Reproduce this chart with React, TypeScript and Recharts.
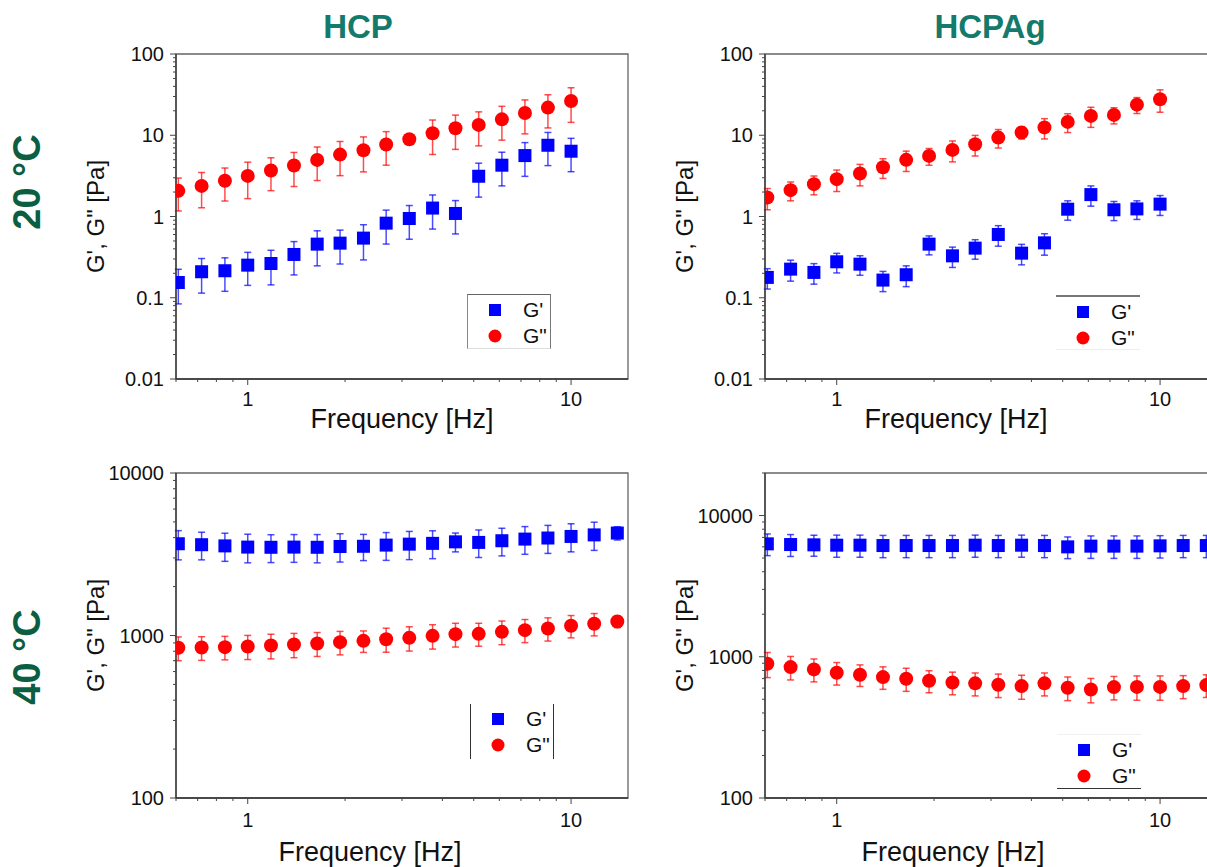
import React from "react";
import {
  ScatterChart,
  Scatter,
  XAxis,
  YAxis,
  ErrorBar,
  Legend,
  ReferenceArea,
} from "recharts";

// frequency sweep [Hz]
const FREQ = [
  0.61, 0.72, 0.85, 1, 1.18, 1.39, 1.64, 1.93, 2.28, 2.68, 3.16, 3.73, 4.39,
  5.18, 6.11, 7.2, 8.48, 10, 11.79, 13.9,
];

// HCP, 20 °C
const HCP20_G1 = [0.154, 0.209, 0.215, 0.252, 0.264, 0.341, 0.457, 0.47, 0.542, 0.828, 0.945, 1.27, 1.09, 3.13, 4.28, 5.62, 7.53, 6.36];
const HCP20_G1_ERR = [0.07, 0.095, 0.095, 0.11, 0.12, 0.15, 0.21, 0.21, 0.25, 0.37, 0.42, 0.57, 0.48, 1.4, 1.9, 2.5, 3.3, 2.8];
const HCP20_G2 = [2.07, 2.38, 2.75, 3.16, 3.68, 4.24, 4.97, 5.78, 6.54, 7.68, 8.93, 10.6, 12.2, 13.4, 15.7, 18.8, 21.9, 26.4];
const HCP20_G2_ERR = [0.9, 1.1, 1.2, 1.5, 1.6, 1.9, 2.2, 2.6, 3.0, 3.4, 0.8, 4.8, 5.5, 6.0, 7.0, 8.4, 9.6, 12];

// HCPAg, 20 °C
const AG20_G1 = [0.178, 0.225, 0.205, 0.277, 0.259, 0.165, 0.192, 0.457, 0.328, 0.408, 0.601, 0.354, 0.474, 1.23, 1.86, 1.21, 1.24, 1.42];
const AG20_G1_ERR = [0.05, 0.065, 0.058, 0.075, 0.07, 0.046, 0.055, 0.12, 0.092, 0.11, 0.17, 0.1, 0.14, 0.33, 0.52, 0.32, 0.32, 0.39];
const AG20_G2 = [1.71, 2.11, 2.5, 2.88, 3.38, 4.04, 4.98, 5.57, 6.6, 7.75, 9.36, 10.8, 12.5, 14.6, 17.3, 17.8, 23.8, 27.7];
const AG20_G2_ERR = [0.5, 0.55, 0.65, 0.85, 1.0, 1.1, 1.4, 1.3, 1.9, 2.2, 2.4, 1.8, 3.5, 3.8, 4.8, 4.0, 5.3, 8.5];

// HCP, 40 °C
const HCP40_G1 = [3670, 3620, 3560, 3500, 3490, 3500, 3490, 3530, 3540, 3600, 3650, 3690, 3770, 3740, 3830, 3920, 3980, 4070, 4160, 4270];
const HCP40_G1_ERR = [750, 700, 700, 700, 680, 680, 690, 700, 650, 700, 720, 720, 500, 720, 740, 760, 780, 800, 820, 400];
const HCP40_G2 = [840, 843, 848, 856, 868, 880, 893, 910, 927, 949, 967, 995, 1019, 1024, 1053, 1079, 1104, 1147, 1180, 1219];
const HCP40_G2_ERR = [140, 140, 140, 145, 150, 150, 150, 150, 140, 160, 165, 170, 170, 165, 175, 175, 180, 180, 185, 100];

// HCPAg, 40 °C
const AG40_G1 = [6300, 6230, 6200, 6165, 6165, 6130, 6130, 6130, 6130, 6165, 6130, 6165, 6130, 6000, 6070, 6070, 6070, 6100, 6130, 6130];
const AG40_G1_ERR = [1100, 1100, 1050, 1100, 1100, 1100, 1100, 1100, 1100, 1100, 1100, 1100, 1100, 1050, 1100, 1100, 1100, 1100, 1100, 1100];
const AG40_G2 = [892, 845, 814, 770, 746, 718, 699, 676, 658, 648, 634, 620, 648, 604, 587, 610, 612, 612, 620, 630];
const AG40_G2_ERR = [180, 160, 150, 140, 130, 130, 130, 120, 120, 120, 120, 120, 120, 115, 115, 115, 120, 120, 115, 115];

const X_TICKS = [0.6, 0.7, 0.8, 0.9, 1, 2, 3, 4, 5, 6, 7, 8, 9, 10];
const Y_TICKS_20 = [
  0.01, 0.02, 0.03, 0.04, 0.05, 0.06, 0.07, 0.08, 0.09, 0.1, 0.2, 0.3, 0.4,
  0.5, 0.6, 0.7, 0.8, 0.9, 1, 2, 3, 4, 5, 6, 7, 8, 9, 10, 20, 30, 40, 50, 60,
  70, 80, 90, 100,
];
const Y_TICKS_40 = [
  100, 200, 300, 400, 500, 600, 700, 800, 900, 1000, 2000, 3000, 4000, 5000,
  6000, 7000, 8000, 9000, 10000,
];
const Y_TICKS_40AG = [...Y_TICKS_40, 20000];

const BLUE = "#0000ff";
const RED = "#ff0000";
const FONT = '"Liberation Sans", Arial, sans-serif';

const toPts = (ys: number[], es: number[]) =>
  ys.map((y, i) => ({ x: FREQ[i], y, e: es[i] }));

const isDecade = (v: number) =>
  Math.abs(Math.log10(v) - Math.round(Math.log10(v))) < 1e-6;

const YTick = (p: any) => {
  const v = p.payload.value;
  const major = isDecade(v);
  return (
    <g>
      <line x1={p.x - (major ? 6 : 3)} x2={p.x} y1={p.y} y2={p.y} stroke="#444" />
      {major && (
        <text x={p.x - 12} y={p.y} textAnchor="end" dominantBaseline="central"
          fontSize={20} fontFamily={FONT} fill="#111">
          {String(v)}
        </text>
      )}
    </g>
  );
};

const makeXTick = (labelDy: number) => (p: any) => {
  const v = p.payload.value;
  const major = isDecade(v);
  return (
    <g>
      <line x1={p.x} x2={p.x} y1={p.y} y2={p.y + (major ? 6 : 3)} stroke="#444" />
      {major && (
        <text x={p.x} y={p.y + labelDy} textAnchor="middle" dominantBaseline="central"
          fontSize={20} fontFamily={FONT} fill="#111">
          {String(v)}
        </text>
      )}
    </g>
  );
};

const XTitle = (props: any) => {
  const { viewBox, dx, dy } = props;
  return (
    <text x={viewBox.x + viewBox.width / 2 + dx} y={viewBox.y + dy}
      textAnchor="middle" dominantBaseline="central" fontSize={27}
      fontFamily={FONT} fill="#111">
      Frequency [Hz]
    </text>
  );
};

const YTitle = (props: any) => {
  const { viewBox } = props;
  const x = viewBox.x + viewBox.width - 81;
  const y = viewBox.y + viewBox.height / 2;
  return (
    <text x={x} y={y} transform={`rotate(-90 ${x} ${y})`} textAnchor="middle"
      dominantBaseline="central" fontSize={24} fontFamily={FONT} fill="#111">
      G', G" [Pa]
    </text>
  );
};

const LegendBox = (props: any) => {
  const { payload, border } = props;
  // G' (square) first, then G" (circle)
  const rows = [...(payload || [])].sort((a: any, b: any) =>
    a.type === "square" ? -1 : b.type === "square" ? 1 : 0
  );
  return (
    <div style={{ position: "relative", width: 84, height: 55, boxSizing: "border-box", ...border }}>
      {rows.map((e: any, i: number) => (
        <div key={i} style={{ position: "absolute", left: 0, top: i === 0 ? 2 : 28, height: 26, width: 84 }}>
          <svg width={40} height={26} style={{ position: "absolute", left: 7, top: 0 }}>
            {e.type === "square" ? (
              <rect x={14} y={7} width={12} height={12} fill={e.color} />
            ) : (
              <circle cx={20} cy={13} r={6.5} fill={e.color} />
            )}
          </svg>
          <span style={{ position: "absolute", left: 55, top: 0, lineHeight: "26px", fontSize: 21, fontFamily: FONT, color: "#111" }}>
            {e.value}
          </span>
        </div>
      ))}
    </div>
  );
};

const square = (p: any) => (
  <rect x={p.cx - 6.5} y={p.cy - 6.5} width={13} height={13} fill={BLUE} />
);
const circle = (p: any) => <circle cx={p.cx} cy={p.cy} r={7} fill={RED} />;

type PanelProps = {
  left: number;
  top: number;
  height: number;
  margin: { top: number; right: number; bottom: number; left: number };
  yDomain: [number, number];
  yTicks: number[];
  g1: { x: number; y: number; e: number }[];
  g2: { x: number; y: number; e: number }[];
  tickDy: number;
  titleDx: number;
  titleDy: number;
  legendAt: { left: number; top: number };
  legendBorder: React.CSSProperties;
};

function Panel(p: PanelProps) {
  return (
    <div style={{ position: "absolute", left: p.left, top: p.top }}>
      <ScatterChart width={640} height={p.height} margin={p.margin}>
        <XAxis type="number" dataKey="x" scale="log" domain={[0.6, 15]}
          allowDataOverflow ticks={X_TICKS} interval={0} tickSize={0} tickMargin={0}
          height={40} axisLine={{ stroke: "#333", strokeWidth: 1.3 }}
          tick={makeXTick(p.tickDy)}
          label={<XTitle dx={p.titleDx} dy={p.titleDy} />} />
        <YAxis type="number" dataKey="y" scale="log" domain={p.yDomain}
          allowDataOverflow ticks={p.yTicks} interval={0} tickSize={0} tickMargin={0}
          width={80} axisLine={{ stroke: "#333", strokeWidth: 1.3 }}
          tick={YTick} label={<YTitle />} />
        <ReferenceArea x1={0.6} x2={15} y1={p.yDomain[0]} y2={p.yDomain[1]}
          fill="none" stroke="#666" strokeWidth={1.3} ifOverflow="visible" />
        <Legend layout="horizontal" verticalAlign="middle" align="center"
          wrapperStyle={{ left: p.legendAt.left, top: p.legendAt.top, width: 84, height: 55 }}
          content={<LegendBox border={p.legendBorder} />} />
        <Scatter name="G'" data={p.g1} fill={BLUE} legendType="square"
          shape={square} isAnimationActive={false}>
          <ErrorBar dataKey="e" direction="y" width={3.5} stroke={BLUE}
            strokeOpacity={0.7} isAnimationActive={false} />
        </Scatter>
        <Scatter name={'G"'} data={p.g2} fill={RED} legendType="circle"
          shape={circle} isAnimationActive={false}>
          <ErrorBar dataKey="e" direction="y" width={3.5} stroke={RED}
            strokeOpacity={0.7} isAnimationActive={false} />
        </Scatter>
      </ScatterChart>
    </div>
  );
}

const titleStyle = (cx: number): React.CSSProperties => ({
  position: "absolute", left: cx - 100, top: 7, width: 200, height: 40,
  lineHeight: "40px", textAlign: "center", fontSize: 33, fontWeight: "bold",
  fontFamily: FONT, color: "#137a6c",
});

const tempStyle = (cy: number): React.CSSProperties => ({
  position: "absolute", left: 27, top: cy, transform: "translate(-50%, -50%) rotate(-90deg)",
  fontSize: 38, fontWeight: "bold", fontFamily: FONT, color: "#0c5e42",
  whiteSpace: "nowrap", lineHeight: 1,
});

export default function App() {
  return (
    <div style={{ position: "absolute", left: 0, top: 0, width: 1207, height: 867, overflow: "hidden", background: "#fff" }}>
      <div style={titleStyle(358)}>HCP</div>
      <div style={titleStyle(990)}>HCPAg</div>
      <div style={tempStyle(182)}>20 °C</div>
      <div style={tempStyle(657)}>40 °C</div>

      <Panel left={0} top={0} height={440}
        margin={{ top: 54, right: 12, bottom: 21, left: 96 }}
        yDomain={[0.01, 100]} yTicks={Y_TICKS_20}
        g1={toPts(HCP20_G1, HCP20_G1_ERR)} g2={toPts(HCP20_G2, HCP20_G2_ERR)}
        tickDy={20} titleDx={0} titleDy={40}
        legendAt={{ left: 467, top: 294 }}
        legendBorder={{ borderTop: "1.5px solid #666", borderLeft: "1px solid #888", borderRight: "1.5px solid #777", borderBottom: "1px solid #ddd" }} />

      <Panel left={600} top={0} height={440}
        margin={{ top: 54, right: 23, bottom: 21, left: 85 }}
        yDomain={[0.01, 100]} yTicks={Y_TICKS_20}
        g1={toPts(AG20_G1, AG20_G1_ERR)} g2={toPts(AG20_G2, AG20_G2_ERR)}
        tickDy={20} titleDx={-35} titleDy={40}
        legendAt={{ left: 456, top: 295 }}
        legendBorder={{ borderTop: "2px solid #777", borderBottom: "1px solid #eee" }} />

      <Panel left={0} top={440} height={427}
        margin={{ top: 33, right: 12, bottom: 29, left: 96 }}
        yDomain={[100, 10000]} yTicks={Y_TICKS_40}
        g1={toPts(HCP40_G1, HCP40_G1_ERR)} g2={toPts(HCP40_G2, HCP40_G2_ERR)}
        tickDy={22} titleDx={-32} titleDy={54}
        legendAt={{ left: 470, top: 264 }}
        legendBorder={{ borderLeft: "1px solid #333", borderRight: "1px solid #333" }} />

      <Panel left={600} top={440} height={427}
        margin={{ top: 33, right: 23, bottom: 29, left: 85 }}
        yDomain={[100, 20000]} yTicks={Y_TICKS_40AG}
        g1={toPts(AG40_G1, AG40_G1_ERR)} g2={toPts(AG40_G2, AG40_G2_ERR)}
        tickDy={22} titleDx={-38} titleDy={54}
        legendAt={{ left: 457, top: 294 }}
        legendBorder={{ borderBottom: "1px solid #333", borderTop: "1px solid #f0f0f0" }} />
    </div>
  );
}
